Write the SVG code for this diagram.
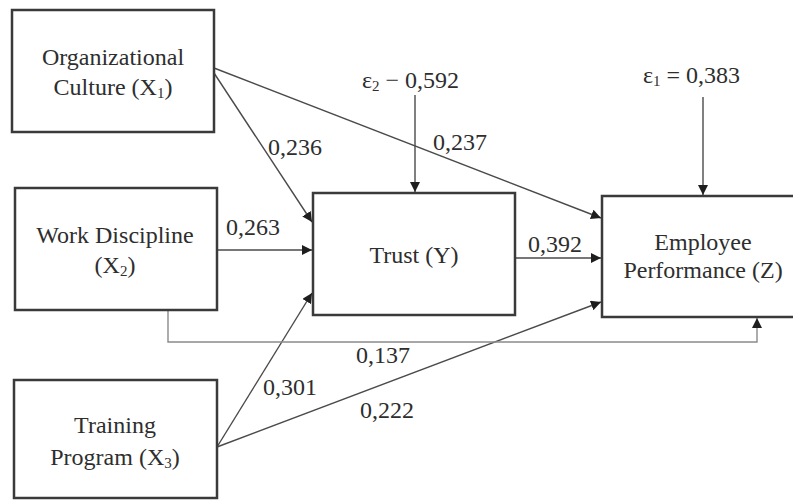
<svg xmlns="http://www.w3.org/2000/svg" width="793" height="501" viewBox="0 0 793 501">
<style>
.box{fill:#fff;stroke:#3a3a3a;stroke-width:2.5}
.t{font-family:'Liberation Serif','Times New Roman','DejaVu Serif',serif;font-size:24px;fill:#2e2e2e}
.c{text-anchor:middle}
.ln{fill:none;stroke:#4a4a4a;stroke-width:1.4}
.lt{stroke:#8a8a8a}
.sub{font-size:15px}
</style>
<defs>
<marker id="ah" viewBox="0 0 10 10" refX="10" refY="5" markerWidth="10" markerHeight="10" markerUnits="userSpaceOnUse" orient="auto">
<path d="M0,0 L10,5 L0,10 Z" fill="#1e1e1e"/>
</marker>
</defs>
<rect width="793" height="501" fill="#fff"/>
<g id="connectors">
<line class="ln" x1="214" y1="68" x2="601" y2="218" marker-end="url(#ah)"/>
<line class="ln" x1="214" y1="73" x2="312" y2="222" marker-end="url(#ah)"/>
<line class="ln" x1="217" y1="250" x2="312" y2="250" marker-end="url(#ah)"/>
<line class="ln" x1="217" y1="447" x2="312" y2="293" marker-end="url(#ah)"/>
<line class="ln" x1="217" y1="447" x2="601" y2="302" marker-end="url(#ah)"/>
<line class="ln" x1="515" y1="258" x2="601" y2="258" marker-end="url(#ah)"/>
<line class="ln" x1="415" y1="95" x2="415" y2="192" marker-end="url(#ah)"/>
<line class="ln" x1="703" y1="97" x2="703" y2="195" marker-end="url(#ah)"/>
<polyline class="ln lt" points="168,310 168,342 757,342 757,318" marker-end="url(#ah)"/>
<text class="t" x="268" y="155" font-family="Liberation Serif, serif">0,236</text>
<text class="t" x="433" y="150">0,237</text>
<text class="t" x="226" y="235">0,263</text>
<text class="t" x="528" y="252">0,392</text>
<text class="t" x="356" y="363">0,137</text>
<text class="t" x="263" y="395">0,301</text>
<text class="t" x="360" y="418">0,222</text>
<text class="t" x="362" y="88">ε<tspan class="sub" dy="3">2</tspan><tspan dy="-3"> − 0,592</tspan></text>
<text class="t" x="643" y="83">ε<tspan class="sub" dy="3">1</tspan><tspan dy="-3"> = 0,383</tspan></text>
</g>
<g id="x1">
<rect class="box" x="12" y="10" width="202" height="122"/>
<text class="t c" x="113" y="65">Organizational</text>
<text class="t c" x="113" y="95">Culture (X<tspan class="sub" dy="3">1</tspan><tspan dy="-3">)</tspan></text>
</g>
<g id="x2">
<rect class="box" x="15" y="188" width="202" height="122"/>
<text class="t c" x="115" y="243">Work Discipline</text>
<text class="t c" x="115" y="273">(X<tspan class="sub" dy="3">2</tspan><tspan dy="-3">)</tspan></text>
</g>
<g id="x3">
<rect class="box" x="14" y="380" width="203" height="118"/>
<text class="t c" x="115" y="433">Training</text>
<text class="t c" x="115" y="465">Program (X<tspan class="sub" dy="3">3</tspan><tspan dy="-3">)</tspan></text>
</g>
<g id="trust">
<rect class="box" x="313" y="193" width="202" height="122"/>
<text class="t c" x="414" y="263">Trust (Y)</text>
</g>
<g id="employee">
<rect class="box" x="602" y="196" width="200" height="121"/>
<text class="t c" x="703" y="250">Employee</text>
<text class="t c" x="703" y="278">Performance (Z)</text>
</g>
</svg>
